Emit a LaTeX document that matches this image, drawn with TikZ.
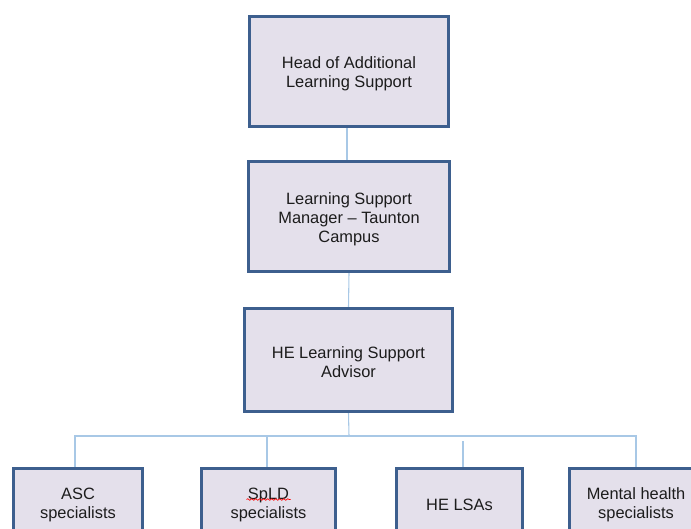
\documentclass[tikz,border=0pt]{standalone}
\usepackage{fontspec}
\setmainfont{Liberation Sans}
\usetikzlibrary{calc,decorations.pathmorphing}
\definecolor{boxfill}{HTML}{E4E0EB}
\definecolor{boxedge}{HTML}{3D5F8E}
\definecolor{linkblue}{HTML}{A8C8E6}
\definecolor{txt}{HTML}{1C1C1C}
% taller first line so the text sits a little lower in each box
\newcommand{\toplift}{\rule{0pt}{12.5pt}}
\tikzset{
  orgbox/.style={draw=boxedge, line width=2.3pt, fill=boxfill, align=center,
    text=txt, inner sep=0pt,
    font=\fontsize{12.3pt}{14.3pt}\selectfont},
  link/.style={draw=linkblue, line width=0.8pt}
}
\begin{document}
\begin{tikzpicture}[x=0.75pt, y=-0.75pt]
\useasboundingbox (0,0) rectangle (691,528);
\clip (0,0) rectangle (691,528);

% management chain
\node[orgbox, minimum width=149.25pt, minimum height=82.5pt] (head) at (349,71.5)
  {\toplift Head of Additional\\Learning Support};
\node[orgbox, minimum width=150.75pt, minimum height=82.5pt] (mgr) at (349,216.5)
  {\toplift Learning Support\\Manager -- Taunton\\Campus};
\node[orgbox, minimum width=156pt, minimum height=77.25pt] (adv) at (348.5,360)
  {\toplift HE Learning Support\\Advisor};

% specialist teams
\node[orgbox, minimum width=96.75pt, minimum height=50pt] (asc) at (78,502)
  {\toplift ASC\\specialists};
\node[orgbox, minimum width=100.5pt, minimum height=50pt] (spld) at (268.5,502)
  {\toplift SpLD\\specialists};
\node[orgbox, minimum width=94.5pt, minimum height=50pt] (lsa) at (459.5,502)
  {\toplift HE LSAs};
\node[orgbox, minimum width=99.75pt, minimum height=50pt] (mh) at (636,502)
  {\toplift Mental health\\specialists};

% spell-check underline
\draw[red, line width=0.5pt, decorate,
  decoration={snake, segment length=3pt, amplitude=0.6pt}]
  ($(spld.center)+(-22,-2.5)$) -- ($(spld.center)+(22,-2.5)$);

% connectors
\coordinate (bus) at (349,436);
\draw[link] (head.south) ++(-2,0) coordinate (h1) -- (h1 |- mgr.north);
\draw[link] (mgr.south) -- (adv.north);
\draw[link] (adv.south) -- (bus);
\draw[link] (asc.north) ++(-3,0) coordinate (a1) -- (a1 |- bus) -- (bus);
\draw[link] (mh.north) -- (mh.north |- bus) -- (bus);
\draw[link] (spld.north) ++(-1.5,0) coordinate (s1) -- (s1 |- bus);
\draw[link] (lsa.north) ++(3.5,0) coordinate (l1) -- ($(l1 |- bus)+(0,5)$);
\end{tikzpicture}
\end{document}
